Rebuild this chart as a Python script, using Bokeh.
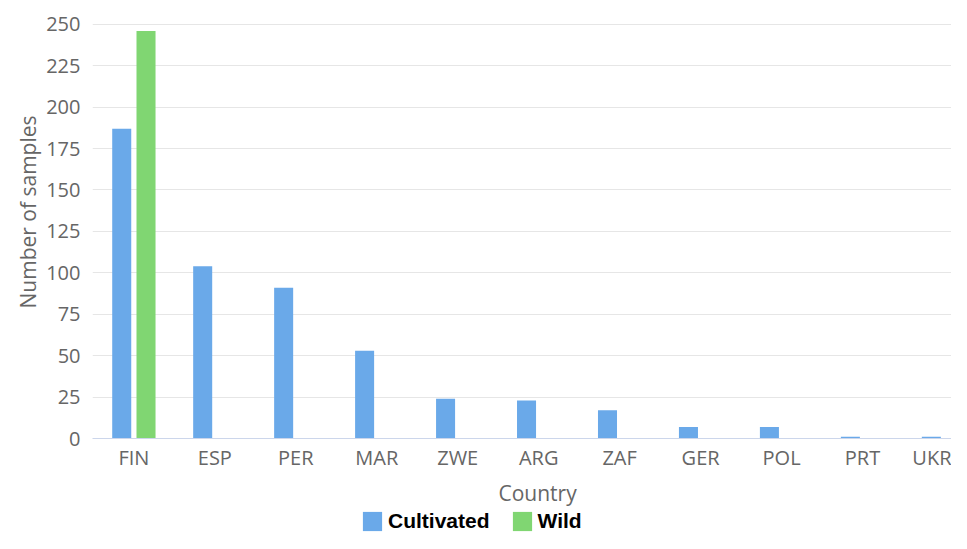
from bokeh.plotting import figure
from bokeh.layouts import column
from bokeh.models import (ColumnDataSource, Range1d, FixedTicker, Legend, LegendItem, Title)
from bokeh.transform import dodge
from bokeh.embed import file_html
from bokeh.resources import INLINE

countries = ["FIN", "ESP", "PER", "MAR", "ZWE", "ARG", "ZAF", "GER", "POL", "PRT", "UKR"]
cultivated = [187, 104, 91, 53, 24, 23, 17, 7, 7, 1, 1]
wild = [246, 0, 0, 0, 0, 0, 0, 0, 0, 0, 0]
y_ticks = [0, 25, 50, 75, 100, 125, 150, 175, 200, 225, 250]

idx = list(range(len(countries)))
src = ColumnDataSource(dict(x=idx, cultivated=cultivated, wild=wild))

FONT = "Open Sans"
GREY = "#666666"
BLUE = "#6aa9e9"
GREEN = "#80d672"

p = figure(width=951, height=510, output_backend="svg", toolbar_location=None,
           x_range=Range1d(-0.511, 10.099), y_range=Range1d(0, 250.5),
           min_border_left=92, min_border_right=0, min_border_top=23,
           min_border_bottom=71)
p.outline_line_color = None
p.background_fill_color = "white"
p.border_fill_color = "white"

p.vbar(x=dodge("x", -0.15), top="cultivated", width=0.235, source=src,
       fill_color=BLUE, line_color=None)
p.vbar(x=dodge("x", 0.15), top="wild", width=0.235, source=src,
       fill_color=GREEN, line_color=None)

# x axis
p.xaxis.ticker = FixedTicker(ticks=idx)
p.xaxis.major_label_overrides = {i: c for i, c in zip(idx, countries)}
p.xaxis.major_tick_line_color = None
p.xaxis.minor_tick_line_color = None
p.xaxis.axis_line_color = "#ccd6eb"
p.xaxis.major_label_text_font = FONT
p.xaxis.major_label_text_font_size = "20px"
p.xaxis.major_label_text_color = GREY
p.xaxis.major_label_standoff = -1
p.xgrid.grid_line_color = None

# y axis
p.yaxis.ticker = FixedTicker(ticks=y_ticks)
p.yaxis.axis_line_color = None
p.yaxis.major_tick_line_color = None
p.yaxis.minor_tick_line_color = None
p.yaxis.major_label_text_font = FONT
p.yaxis.major_label_text_font_size = "20px"
p.yaxis.major_label_text_color = GREY
p.yaxis.major_label_standoff = 6
p.ygrid.grid_line_color = "#e6e6e6"
p.ygrid.ticker = FixedTicker(ticks=y_ticks)

# axis titles
yt = Title(text="Number of samples", align="left", offset=130,
           text_font=FONT, text_font_size="21px", text_font_style="normal",
           text_color=GREY, standoff=4)
p.add_layout(yt, "left")
xt = Title(text="Country", align="left", offset=406,
           text_font=FONT, text_font_size="21px", text_font_style="normal",
           text_color=GREY, standoff=7)
p.add_layout(xt, "below")

# legend strip
lp = figure(width=951, height=23, output_backend="svg", toolbar_location=None,
            x_range=Range1d(-200, -199), y_range=Range1d(-200, -199),
            min_border_left=0, min_border_right=0, min_border_top=0,
            min_border_bottom=0)
lp.axis.visible = False
lp.grid.visible = False
lp.outline_line_color = None
lr1 = lp.vbar(x=dodge("x", -0.15), top="cultivated", width=0.235, source=src,
              fill_color=BLUE, line_color=None)
lr2 = lp.vbar(x=dodge("x", 0.15), top="wild", width=0.235, source=src,
              fill_color=GREEN, line_color=None)
legend = Legend(items=[LegendItem(label="Cultivated", renderers=[lr1]),
                       LegendItem(label="Wild", renderers=[lr2])],
                orientation="horizontal", location=(268, 0),
                label_text_font="Liberation Sans", label_text_font_size="21px",
                label_text_font_style="bold", label_text_color="#000000",
                glyph_width=24, glyph_height=24, spacing=20, label_standoff=4,
                border_line_color=None, background_fill_alpha=0,
                padding=0, margin=0)
lp.add_layout(legend)

layout = column(p, lp, spacing=0)
open("out.html", "w").write(file_html(layout, INLINE))
